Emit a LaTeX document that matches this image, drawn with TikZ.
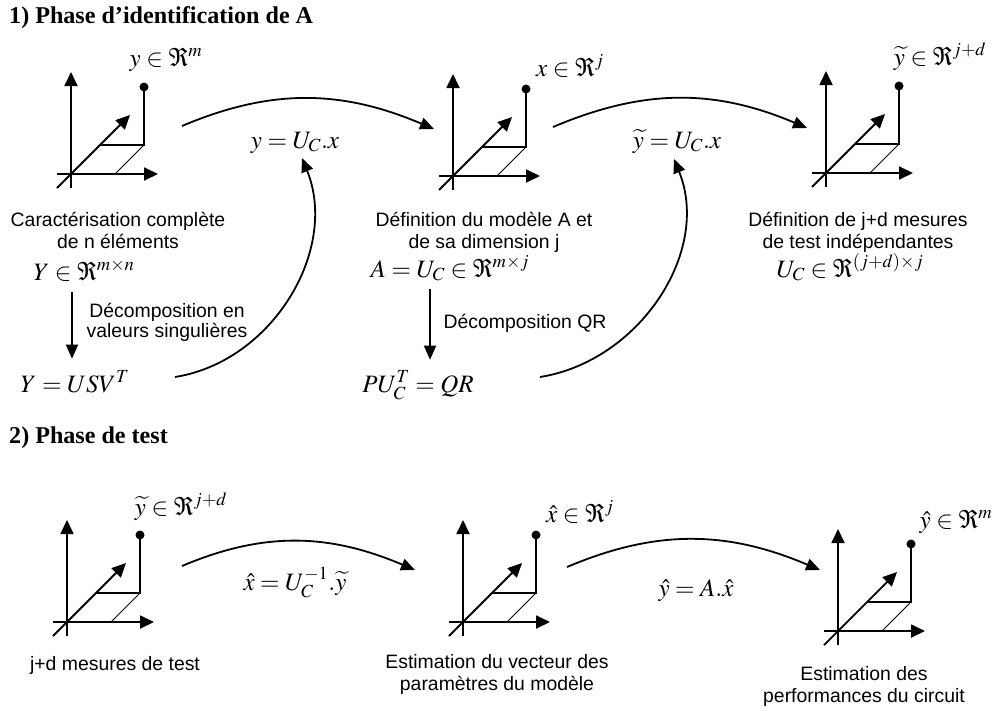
\documentclass[tikz,border=0pt]{standalone}
\usepackage{mathptmx}
\usepackage[no-math]{fontspec}
\setmainfont{Liberation Serif}
\setsansfont{Liberation Sans}
\usetikzlibrary{arrows.meta,positioning}
\tikzset{
    titre/.style={anchor=base west, inner sep=0pt, font=\bfseries\fontsize{24.1}{28}\selectfont},
    legende/.style={anchor=base, inner sep=0pt, align=center, font=\sffamily\fontsize{19.4}{21.5}\selectfont},
    eq/.style={anchor=base, inner sep=0pt, font=\fontsize{25}{30}\selectfont},
    fleche/.style={-{Triangle[length=14pt,width=12pt]}, line width=1.8pt},
    axe/.style={-{Triangle[length=14pt,width=13pt]}, line width=1.8pt},
    repere/.pic={
        \draw[axe] (0,14) -- (0,-102);
        \draw[axe] (-14,0) -- (87,0);
        \draw[axe] (-14,14) -- (59,-59);
        \draw[line width=0.8pt] (73,-29) -- (44,0);
        \draw[line width=1.8pt] (29,-29) -- (73,-29) -- (73,-87);
        \fill (73,-87) circle (4.5pt);
    },
}

\begin{document}
\begin{tikzpicture}[x=1pt, y=-1pt]
    \useasboundingbox (0,0) rectangle (995,710);

    % 1) Phase d'identification
    \node[titre] (t1) at (9,23) {1) Phase d’identification de A};
    \pic at (71,174) {repere};
    \pic at (453,176) {repere};
    \pic at (826,173) {repere};
    \node[eq] (l1) at (166,66) {$y\in\Re^{m}$};
    \node[eq] (l2) at (570,76) {$x\in\Re^{j}$};
    \node[eq] (l3) at (940,65) {$\widetilde{y}\in\Re^{j+d}$};
    \node[eq] (eq1) at (295,148) {$y=U_C.x$};
    \node[eq] (eq2) at (677,148) {$\widetilde{y}=U_C.x$};

    \node[legende] (car) at (118,248) {Caractérisation complète\\de n éléments};
    \node[eq] (Yin) at (84,280) {$Y\in\Re^{m\times n}$};
    \node[legende, font=\sffamily\fontsize{19.4}{20}\selectfont] (dsv) at (167,337) {Décomposition en\\valeurs singulières};
    \node[eq] (usv) at (75,392) {$Y=USV^{T}$};

    \node[legende] (defa) at (484,248) {Définition du modèle A et\\de sa dimension j};
    \node[eq] (Ain) at (450,277) {$A=U_C\in\Re^{m\times j}$};
    \node[legende] (dqr) at (525,328) {Décomposition QR};
    \node[eq] (pu) at (418,392) {$PU_C^{T}=QR$};

    \node[legende] (defj) at (858,248) {Définition de j+d mesures\\de test indépendantes};
    \node[eq] (Ucin) at (850,277) {$U_C\in\Re^{(j+d)\times j}$};

    \coordinate (v1) at (72,0);
    \coordinate (v2) at (430,0);
    \draw[fleche, shorten <=11pt, shorten >=12pt] (Yin.south -| v1) -- (usv.north -| v1);
    \draw[fleche, shorten <=8pt, shorten >=11pt] (Ain.south -| v2) -- (pu.north -| v2);

    \coordinate (d1) at (182,126);
    \coordinate (a1) at (434,129);
    \coordinate (d2) at (553,127);
    \coordinate (a2) at (807,128);
    \foreach \a/\b in {d1/a1, d2/a2} \draw[fleche] (\a) to[out=23, in=157] (\b);

    \coordinate (b1) at (175,377);
    \coordinate (h1) at (302,158);
    \coordinate (b2) at (540,377);
    \coordinate (h2) at (674,159);
    \foreach \a/\b in {b1/h1, b2/h2} \draw[fleche] (\a) to[out=9, in=-68] (\b);

    % 2) Phase de test
    \node[titre] (t2) at (9,443) {2) Phase de test};
    \pic at (67,622) {repere};
    \pic at (463,622) {repere};
    \pic at (838,631) {repere};
    \node[eq] (l4) at (181,515) {$\widetilde{y}\in\Re^{j+d}$};
    \node[eq] (l5) at (580,522) {$\hat{x}\in\Re^{j}$};
    \node[eq] (l6) at (956,528) {$\hat{y}\in\Re^{m}$};
    \node[eq] (eq3) at (295,590) {$\hat{x}=U_C^{-1}.\widetilde{y}$};
    \node[eq] (eq4) at (696,596) {$\hat{y}=A.\hat{x}$};

    \node[legende] (jdm) at (115,670) {j+d mesures de test};
    \node[legende] (evp) at (497,690) {Estimation du vecteur des\\paramètres du modèle};
    \node[legende] (epc) at (864,702) {Estimation des\\performances du circuit};

    \coordinate (d3) at (182,566);
    \coordinate (a3) at (415,570);
    \coordinate (d4) at (567,567);
    \coordinate (a4) at (820,570);
    \foreach \a/\b in {d3/a3, d4/a4} \draw[fleche] (\a) to[out=23, in=157] (\b);
\end{tikzpicture}
\end{document}
